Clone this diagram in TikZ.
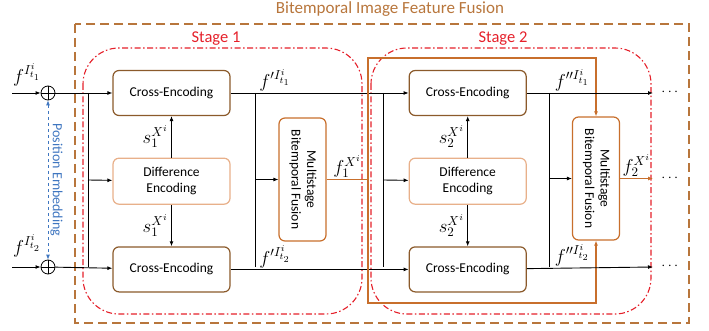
\documentclass[tikz,border=0pt]{standalone}
\usepackage{amsmath}
\usepackage{graphicx}
\usepackage{fontspec}
\setmainfont{Carlito}
\usetikzlibrary{arrows.meta}
\usetikzlibrary{positioning, calc}

\definecolor{cebrown}{HTML}{8B5A2B}
\definecolor{difftan}{HTML}{E8B08A}
\definecolor{fuseorange}{HTML}{C86F2C}
\definecolor{outerbrown}{HTML}{B8763C}
\definecolor{stagered}{HTML}{E5202A}
\definecolor{embblue}{HTML}{3F76C0}

% feature labels, set a bit larger than the math sizes allow
\newcommand{\flab}[1]{\scalebox{1.3}{$#1$}}

\tikzset{
    cebox/.style = {draw=cebrown, line width=1.2pt, rounded corners=6pt, fill=white,
        minimum width=117pt, minimum height=45pt, align=center,
        font=\fontsize{13.5}{15.5}\selectfont},
    diffbox/.style = {cebox, draw=difftan, minimum height=46pt},
    fusebox/.style = {draw=fuseorange, line width=1.2pt, rounded corners=6pt, fill=white,
        minimum width=47pt, minimum height=123pt, inner sep=0pt,
        font=\fontsize{13.5}{15.5}\selectfont},
    addnode/.style = {circle, draw, line width=0.8pt, minimum size=14pt, inner sep=0pt,
        path picture={\draw[line width=0.8pt]
            (path picture bounding box.north) -- (path picture bounding box.south)
            (path picture bounding box.west) -- (path picture bounding box.east);}},
    flow/.style = {line width=0.9pt, ->},
    fuseline/.style = {draw=fuseorange, line width=1.1pt},
    embline/.style = {draw=embblue, line width=0.8pt, dashed, <->},
    stageline/.style = {draw=stagered, line width=1.1pt, rounded corners=36pt,
        dash pattern=on 6pt off 2.5pt on 1.5pt off 2.5pt},
    outerline/.style = {draw=outerbrown, line width=1.3pt, dash pattern=on 9pt off 5pt},
    stagelabel/.style = {text=stagered, font=\fontsize{16.5}{18}\selectfont},
    flabel/.style = {font=\fontsize{14.4}{16}\selectfont, inner sep=1pt},
    dots/.style = {font=\fontsize{14.4}{16}\selectfont, inner sep=0pt}
}

\begin{document}
\begin{tikzpicture}[x=1pt, y=-1pt, >={Latex[length=5pt,width=4pt]}]
    \useasboundingbox (0,0) rectangle (709,331);

    % frames
    \draw[outerline] (75,24) rectangle (689,323);
    \node[text=outerbrown, font=\fontsize{17}{19}\selectfont] (title) at (390,9) {Bitemporal Image Feature Fusion};
    \draw[stageline] (83,48) rectangle (362,314);
    \draw[stageline] (371,48) rectangle (651,314);
    \node[stagelabel] (stage1) at (216,39) {Stage 1};
    \node[stagelabel] (stage2) at (503,39) {Stage 2};

    % stage 1
    \node[cebox] (ce1a) at (171.5,93) {Cross-Encoding};
    \node[diffbox, below=41.5pt of ce1a] (diff1) {Difference\\Encoding};
    \node[cebox, below=41.5pt of diff1] (ce1b) {Cross-Encoding};
    \node[fusebox] (fuse1) at (302.5,179.5) {\rotatebox{-90}{\begin{tabular}{@{}c@{}}Multistage\\Bitemporal Fusion\end{tabular}}};

    % stage 2
    \node[cebox, right=178pt of ce1a] (ce2a) {Cross-Encoding};
    \node[diffbox, right=178pt of diff1] (diff2) {Difference\\Encoding};
    \node[cebox, right=178pt of ce1b] (ce2b) {Cross-Encoding};
    \node[fusebox] (fuse2) at (596,178.5) {\rotatebox{-90}{\begin{tabular}{@{}c@{}}Multistage\\Bitemporal Fusion\end{tabular}}};

    % inputs and position embedding
    \coordinate (in1) at (12,93);
    \coordinate (in2) at (12,267);
    \node[addnode] (add1) at (48,93) {};
    \node[addnode] (add2) at (48,267) {};
    \node[flabel] (lab1) at (27,75) {\flab{f^{I^{i}_{t_1}}}};
    \node[flabel] (lab2) at (27,246) {\flab{f^{I^{i}_{t_2}}}};
    \draw[flow] (in1) -- (add1);
    \draw[flow] (in2) -- (add2);
    \draw[embline] (add1) -- node[midway, rotate=-90, above, inner sep=2pt, text=embblue,
        font=\fontsize{14}{16}\selectfont] {Position Embedding} (add2);

    % split points
    \coordinate (bar1a) at (88,93);  \coordinate (bar1m) at (88,180);  \coordinate (bar1b) at (88,267);
    \coordinate (bar2a) at (255,93); \coordinate (bar2m) at (255,179.5); \coordinate (bar2b) at (255,267);
    \coordinate (bar3a) at (383,93); \coordinate (bar3m) at (383,180); \coordinate (bar3b) at (383,267);
    \coordinate (bar4a) at (549,93); \coordinate (bar4m) at (549,178.5); \coordinate (bar4b) at (549,267);

    \draw[flow] (add1) -- (ce1a);
    \draw[flow] (add2) -- (ce1b);
    \draw[line width=0.9pt] (bar1a) -- (bar1b);
    \draw[flow] (bar1m) -- (diff1);
    \draw[flow] (diff1) -- node[left=2pt, flabel] {\flab{s_1^{X^i}}} (ce1a);
    \draw[flow] (diff1) -- node[left=2pt, flabel] {\flab{s_1^{X^i}}} (ce1b);

    \draw[flow] (ce1a) -- node[above, pos=0.25, flabel] {\flab{f^{\prime I^{i}_{t_1}}}} (ce2a);
    \draw[flow] (ce1b) -- node[above, pos=0.25, flabel] {\flab{f^{\prime I^{i}_{t_2}}}} (ce2b);
    \draw[line width=0.9pt] (bar2a) -- (bar2b);
    \draw[flow] (bar2m) -- (fuse1);

    \draw[line width=0.9pt] (bar3a) -- (bar3b);
    \draw[flow] (bar3m) -- (diff2);
    \draw[flow] (diff2) -- node[left=2pt, flabel] {\flab{s_2^{X^i}}} (ce2a);
    \draw[flow] (diff2) -- node[left=2pt, flabel] {\flab{s_2^{X^i}}} (ce2b);

    % stage 1 fusion feeds stage 2 fusion
    \coordinate (split) at (368,179.5);
    \coordinate (loopa) at (596,58);
    \coordinate (loopb) at (596,303);
    \draw[fuseline] (fuse1) -- node[above, flabel, text=black] {\flab{f_1^{X^i}}} (split);
    \draw[fuseline, ->] (split) |- (loopa) -- (fuse2);
    \draw[fuseline, ->] (split) |- (loopb) -- (fuse2);

    \draw[line width=0.9pt] (bar4a) -- (bar4b);
    \draw[flow] (bar4m) -- (fuse2);

    % outputs
    \coordinate (out1) at (653,93);
    \coordinate (out2) at (653,178.5);
    \coordinate (out3) at (653,267);
    \node[dots] (dots1) at (671,92) {$\cdots$};
    \node[dots] (dots2) at (671,178) {$\cdots$};
    \node[dots] (dots3) at (671,266) {$\cdots$};
    \draw[flow] (ce2a) -- node[above, pos=0.36, flabel] {\flab{f^{\prime\prime I^{i}_{t_1}}}} (out1);
    \draw[flow] (ce2b) -- node[above, pos=0.36, flabel] {\flab{f^{\prime\prime I^{i}_{t_2}}}} (out3);
    \draw[fuseline, ->] (fuse2) -- node[above, flabel, text=black] {\flab{f_2^{X^i}}} (out2);
\end{tikzpicture}
\end{document}
